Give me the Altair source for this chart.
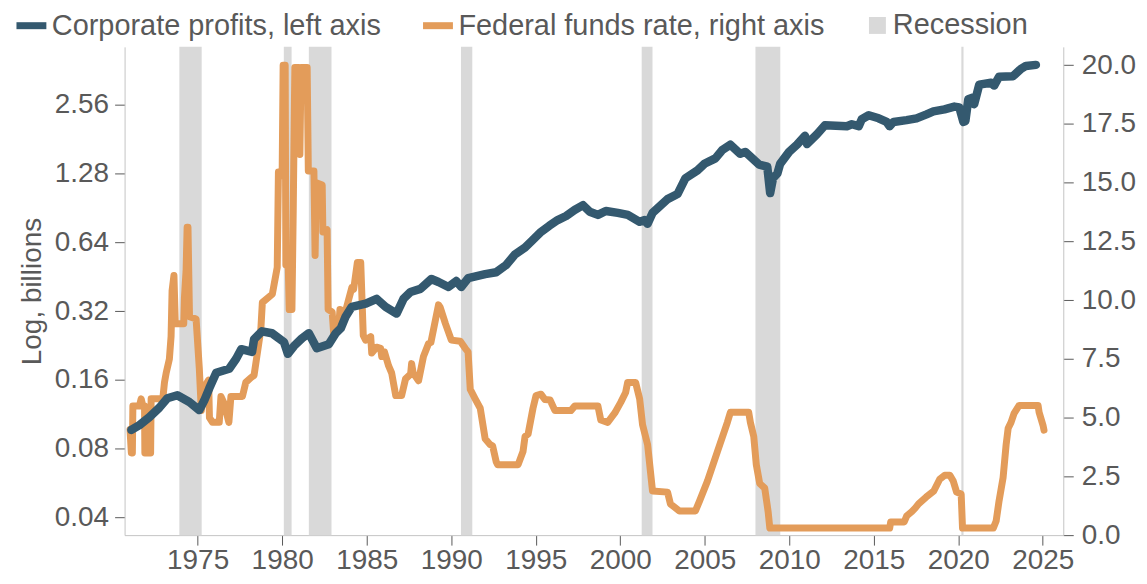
import altair as alt
import pandas as pd

# ---------------- data ----------------
profit_years = [1971.08, 1971.56, 1972.15, 1972.74, 1973.21, 1973.80, 1974.51, 1975.10, 1975.39, 1975.69,
                1976.10, 1976.87, 1977.28, 1977.58, 1978.22, 1978.34, 1978.81, 1979.40, 1980.11, 1980.34,
                1980.70, 1981.17, 1981.58, 1982.05, 1982.76, 1983.17, 1983.47, 1983.76, 1984.12, 1984.95,
                1985.59, 1986.12, 1986.77, 1987.18, 1987.59, 1988.18, 1988.83, 1989.25, 1989.84, 1990.30,
                1990.60, 1991.01, 1992.01, 1992.66, 1993.24, 1993.77, 1994.37, 1994.78, 1995.26, 1995.80,
                1996.30, 1996.80, 1997.30, 1997.80, 1998.20, 1998.68, 1999.15, 1999.86, 2000.45, 2001.15,
                2001.45, 2001.62, 2001.91, 2002.80, 2003.39, 2003.86, 2004.57, 2004.98, 2005.63, 2006.04,
                2006.51, 2007.10, 2007.40, 2008.22, 2008.70, 2008.87, 2009.04, 2009.30, 2009.46, 2009.99,
                2010.46, 2010.93, 2011.05, 2011.64, 2012.11, 2013.41, 2013.70, 2014.11, 2014.29, 2014.70,
                2015.29, 2015.76, 2015.94, 2016.17, 2016.94, 2017.53, 2018.12, 2018.53, 2019.18, 2019.77,
                2020.06, 2020.30, 2020.42, 2020.59, 2020.88, 2020.94, 2021.24, 2021.94, 2022.12, 2022.41,
                2023.24, 2023.71, 2024.00, 2024.59]
profit_values = [0.0966, 0.1015, 0.110, 0.121, 0.133, 0.137, 0.128, 0.118, 0.130, 0.147,
                 0.172, 0.179, 0.198, 0.218, 0.212, 0.241, 0.261, 0.256, 0.234, 0.208,
                 0.225, 0.243, 0.256, 0.220, 0.229, 0.256, 0.269, 0.303, 0.334, 0.345,
                 0.362, 0.334, 0.312, 0.362, 0.388, 0.400, 0.442, 0.429, 0.408, 0.433,
                 0.408, 0.446, 0.464, 0.473, 0.508, 0.566, 0.607, 0.650, 0.705, 0.755,
                 0.800, 0.834, 0.886, 0.930, 0.870, 0.843, 0.877, 0.860, 0.843, 0.786,
                 0.800, 0.771, 0.860, 0.988, 1.04, 1.22, 1.32, 1.41, 1.49, 1.62,
                 1.71, 1.56, 1.59, 1.40, 1.37, 1.05, 1.22, 1.28, 1.41, 1.59,
                 1.71, 1.87, 1.72, 1.90, 2.08, 2.06, 2.10, 2.06, 2.21, 2.30,
                 2.23, 2.15, 2.06, 2.15, 2.19, 2.23, 2.32, 2.39, 2.44, 2.51,
                 2.49, 2.15, 2.17, 2.70, 2.75, 2.57, 3.13, 3.19, 3.10, 3.39,
                 3.41, 3.67, 3.78, 3.82]

rate_years = [1971.00, 1971.08, 1971.14, 1971.17, 1971.56, 1971.66, 1971.76, 1971.86, 1971.88, 1972.22,
              1972.25, 1972.94, 1973.04, 1973.14, 1973.33, 1973.43, 1973.49, 1973.60, 1973.68, 1974.18,
              1974.22, 1974.32, 1974.38, 1974.43, 1974.52, 1974.91, 1975.10, 1975.22, 1975.40, 1975.65,
              1975.70, 1975.88, 1976.28, 1976.38, 1976.57, 1976.85, 1976.97, 1977.65, 1977.85, 1978.15,
              1978.34, 1978.74, 1978.83, 1979.42, 1979.71, 1979.78, 1980.00, 1980.06, 1980.18, 1980.22,
              1980.36, 1980.42, 1980.58, 1980.66, 1980.75, 1980.99, 1981.05, 1981.12, 1981.48, 1981.55,
              1981.88, 1981.95, 1982.02, 1982.37, 1982.41, 1982.66, 1982.72, 1982.96, 1983.06, 1983.35,
              1983.42, 1983.74, 1984.13, 1984.23, 1984.45, 1984.65, 1984.80, 1984.94, 1985.24, 1985.30,
              1985.59, 1985.83, 1985.89, 1986.05, 1986.30, 1986.48, 1986.72, 1987.07, 1987.30, 1987.60,
              1987.66, 1987.75, 1988.07, 1988.36, 1988.66, 1988.80, 1989.07, 1989.25, 1989.35, 1989.66,
              1990.01, 1990.54, 1990.83, 1991.00, 1991.13, 1991.42, 1991.72, 1992.01, 1992.31, 1992.45,
              1992.66, 1992.75, 1993.96, 1994.25, 1994.37, 1994.55, 1994.84, 1995.02, 1995.31, 1995.55,
              1995.85, 1996.14, 1997.08, 1997.32, 1998.68, 1998.85, 1999.26, 1999.68, 2000.03, 2000.32,
              2000.44, 2000.91, 2001.15, 2001.32, 2001.62, 2001.91, 2002.80, 2002.97, 2003.50, 2004.45,
              2004.69, 2005.16, 2005.75, 2006.34, 2006.52, 2007.60, 2007.70, 2007.90, 2008.05, 2008.25,
              2008.55, 2008.75, 2008.85, 2015.94, 2016.00, 2016.80, 2016.95, 2017.25, 2017.45, 2017.65,
              2018.10, 2018.55, 2018.90, 2019.20, 2019.50, 2019.70, 2019.90, 2020.17, 2020.25, 2022.07,
              2022.24, 2022.41, 2022.65, 2022.83, 2022.95, 2023.12, 2023.30, 2023.60, 2024.72, 2024.78,
              2025.01, 2025.07]
rate_values = [4.5, 3.5, 3.5, 5.5, 5.5, 5.8, 5.5, 5.5, 3.5, 3.5,
               5.8, 5.8, 6.5, 6.9, 7.5, 8.45, 10.4, 11.05, 9.0, 9.0,
               10.1, 11.3, 13.1, 13.1, 9.3, 9.2, 7.1, 5.3, 6.3, 6.6,
               5.0, 4.8, 4.8, 5.9, 5.6, 4.8, 5.9, 5.9, 6.5, 6.7,
               6.8, 8.75, 9.9, 10.26, 11.4, 15.45, 15.3, 20.0, 20.0, 11.5,
               11.5, 9.6, 9.6, 14.0, 19.9, 19.9, 16.2, 19.9, 19.9, 15.5,
               15.5, 11.9, 15.0, 14.9, 12.9, 13.0, 9.6, 9.5, 8.45, 8.9,
               9.6, 9.5, 10.55, 10.46, 11.6, 11.6, 8.5, 8.3, 8.45, 7.75,
               8.0, 7.95, 7.6, 7.8, 7.2, 6.9, 5.94, 5.94, 6.65, 6.85,
               7.3, 6.9, 6.57, 7.6, 8.15, 8.2, 9.16, 9.8, 9.7, 9.0,
               8.3, 8.25, 7.95, 7.8, 6.2, 5.8, 5.4, 4.1, 3.85, 3.8,
               3.13, 3.0, 3.0, 3.56, 4.2, 4.3, 5.4, 5.94, 6.0, 5.77,
               5.75, 5.3, 5.3, 5.5, 5.5, 4.9, 4.8, 5.2, 5.65, 6.07,
               6.5, 6.5, 5.8, 4.7, 3.85, 1.88, 1.83, 1.33, 1.03, 1.03,
               1.45, 2.3, 3.55, 4.8, 5.23, 5.23, 4.8, 4.2, 3.0, 2.2,
               2.0, 1.0, 0.3, 0.3, 0.56, 0.56, 0.82, 1.0, 1.15, 1.33,
               1.62, 1.88, 2.38, 2.55, 2.55, 2.3, 1.83, 1.75, 0.3, 0.3,
               0.6, 1.45, 2.45, 3.85, 4.55, 4.8, 5.18, 5.52, 5.52, 5.23,
               4.68, 4.47]

recession_start = [1973.92, 1980.10, 1981.58, 1990.58, 2001.27, 2008.00, 2020.18]
recession_end = [1975.24, 1980.56, 1982.92, 1991.25, 2001.91, 2009.47, 2020.31]

series_names = ["Corporate profits, left axis", "Federal funds rate, right axis"]
recession_name = "Recession"
year_ticks = [1975, 1980, 1985, 1990, 1995, 2000, 2005, 2010, 2015, 2020, 2025]
left_ticks = [0.04, 0.08, 0.16, 0.32, 0.64, 1.28, 2.56]
right_ticks = [0.0, 2.5, 5.0, 7.5, 10.0, 12.5, 15.0, 17.5, 20.0]

# ---------------- styles ----------------
BLUE = "#34596f"
ORANGE = "#e39c5a"
GRAY = "#d9d9d9"
TEXT = "#595959"
AXIS_LINE = "#c4c4c4"
FONT = "Liberation Sans"
FS = 28

profits = pd.DataFrame({"year": profit_years, "value": profit_values, "series": series_names[0]})
rates = pd.DataFrame({"year": rate_years, "rate": rate_values, "series": series_names[1]})
recessions = pd.DataFrame({"start": recession_start, "end": recession_end, "label": recession_name})

x_scale = alt.Scale(domain=[1970.68, 2026.21], nice=False, zero=False)
x_axis = alt.Axis(values=year_ticks, format="d", title=None, grid=False,
                  domainColor=AXIS_LINE, tickColor=TEXT, tickSize=10,
                  labelFontSize=FS, labelColor=TEXT, labelFont=FONT, labelPadding=1,
                  labelFlush=False, labelOverlap=False)

stroke_scale = alt.Scale(domain=series_names, range=[BLUE, ORANGE])
line_legend = alt.Legend(orient="none", legendX=-112, legendY=-40, direction="horizontal",
                         title=None, symbolType="stroke", symbolSize=900, symbolStrokeWidth=7,
                         labelFontSize=29, labelFont=FONT, labelColor=TEXT, labelOffset=2,
                         labelLimit=800, columnPadding=27, padding=0)

rect = alt.Chart(recessions).mark_rect(color=GRAY).encode(
    x=alt.X("start:Q", scale=x_scale, axis=x_axis),
    x2="end:Q",
    fill=alt.Fill("label:N", scale=alt.Scale(domain=[recession_name], range=[GRAY]),
                  legend=alt.Legend(orient="none", legendX=741, legendY=-36, title=None,
                                    symbolType="square", symbolSize=289, symbolStrokeWidth=0,
                                    labelFontSize=29, labelFont=FONT, labelColor=TEXT,
                                    labelOffset=1, labelLimit=400, padding=0)),
)

orange = alt.Chart(rates).mark_line(strokeWidth=7, strokeJoin="round", strokeCap="round").encode(
    x=alt.X("year:Q", scale=x_scale, axis=x_axis),
    y=alt.Y("rate:Q", scale=alt.Scale(domain=[0, 20.78], nice=False, zero=True),
            axis=alt.Axis(orient="right", values=right_ticks, format=".1f", title=None, grid=False,
                          domainColor=AXIS_LINE, tickColor=TEXT, tickSize=10,
                          labelFontSize=FS, labelColor=TEXT, labelFont=FONT, labelPadding=8,
                          labelFlush=False)),
    stroke=alt.Stroke("series:N", scale=stroke_scale, legend=line_legend),
)

blue = alt.Chart(profits).mark_line(strokeWidth=8.5, strokeJoin="round", strokeCap="round").encode(
    x=alt.X("year:Q", scale=x_scale, axis=x_axis),
    y=alt.Y("value:Q", scale=alt.Scale(type="log", base=2, domain=[0.0335, 4.58], nice=False),
            axis=alt.Axis(orient="left", values=left_ticks, format=".2f", title="Log, billions",
                          titleFontSize=FS, titleColor=TEXT, titleFont=FONT, titleFontWeight="normal",
                          titlePadding=8, grid=False,
                          domainColor=AXIS_LINE, tickColor=TEXT, tickSize=10,
                          labelFontSize=FS, labelColor=TEXT, labelFont=FONT, labelPadding=6,
                          labelFlush=False)),
    stroke=alt.Stroke("series:N", scale=stroke_scale, legend=line_legend),
)

chart = (
    alt.layer(rect, orange, blue)
    .resolve_scale(y="independent")
    .properties(
        width=942,
        height=490,
        autosize=alt.AutoSizeParams(type="none"),
        padding={"left": 117, "top": 38, "right": 76, "bottom": 39},
        background="white",
    )
    .configure_view(stroke=None)
)

chart.save("out.html", embed_options={"renderer": "svg", "actions": False})
